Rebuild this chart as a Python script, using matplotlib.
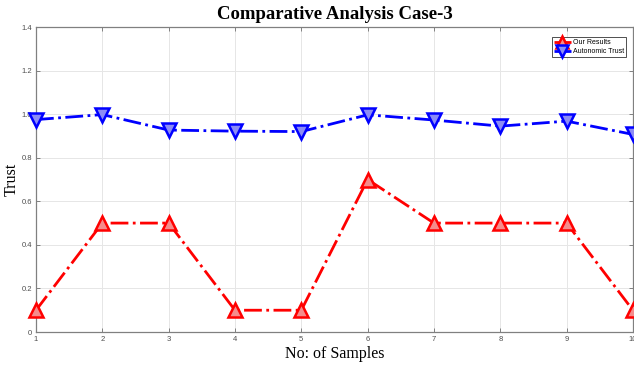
import matplotlib
matplotlib.use("Agg")
import matplotlib.pyplot as plt

samples = [1, 2, 3, 4, 5, 6, 7, 8, 9, 10]
our_results = [0.1, 0.5, 0.5, 0.1, 0.1, 0.7, 0.5, 0.5, 0.5, 0.1]
autonomic_trust = [0.975, 0.998, 0.927, 0.922, 0.920, 0.997, 0.973, 0.945, 0.968, 0.907]
yticks = [0, 0.2, 0.4, 0.6, 0.8, 1.0, 1.2, 1.4]
ytick_labels = ["0", "0.2", "0.4", "0.6", "0.8", "1.0", "1.2", "1.4"]

fig = plt.figure(figsize=(6.34, 3.68), dpi=100)
ax = fig.add_axes([0.0568, 0.0978, 0.9415, 0.8288])

ax.plot(samples, our_results, color=(1, 0, 0), linestyle='-.', linewidth=2,
        marker='^', markersize=10, markerfacecolor=(0.96, 0.55, 0.55),
        markeredgecolor=(1, 0, 0), markeredgewidth=1.8, label='Our Results', clip_on=False, zorder=3)
ax.plot(samples, autonomic_trust, color=(0, 0, 1), linestyle='-.', linewidth=2,
        marker='v', markersize=10, markerfacecolor=(0.55, 0.55, 0.96),
        markeredgecolor=(0, 0, 1), markeredgewidth=1.8, label='Autonomic Trust', clip_on=False, zorder=3)

ax.set_xlim(1, 10)
ax.set_ylim(0, 1.4)
ax.set_xticks(samples)
ax.set_yticks(yticks)
ax.set_yticklabels(ytick_labels)
ax.grid(True, color=(0.9, 0.9, 0.9), linewidth=0.7)
ax.set_axisbelow(True)
for s in ax.spines.values():
    s.set_color((0.5, 0.5, 0.5))
    s.set_linewidth(0.9)
ax.tick_params(direction='in', top=True, right=True, length=3, width=0.7,
               colors=(0.5, 0.5, 0.5), labelsize=5.5, labelcolor=(0.3, 0.3, 0.3), pad=3)
for lbl in ax.get_xticklabels() + ax.get_yticklabels():
    lbl.set_family('Liberation Sans')
    lbl.set_zorder(1)

ax.set_title('Comparative Analysis Case-3', fontfamily='Liberation Serif',
             fontweight='bold', fontsize=13.5, pad=6)
ax.set_xlabel('No: of Samples', fontfamily='Liberation Serif', fontsize=11.5, labelpad=2)
ax.set_ylabel('Trust', fontfamily='Liberation Serif', fontsize=11.5, labelpad=1)

leg = ax.legend(loc='upper right', prop={'family': 'Liberation Sans', 'size': 5},
                fancybox=False, framealpha=1, edgecolor=(0.2, 0.2, 0.2),
                borderpad=0.3, handlelength=2.5, handletextpad=0.3, labelspacing=0.3,
                markerscale=0.9, bbox_to_anchor=(0.995, 0.978))
leg.get_frame().set_linewidth(0.6)

fig.savefig('out.png', dpi=100)
